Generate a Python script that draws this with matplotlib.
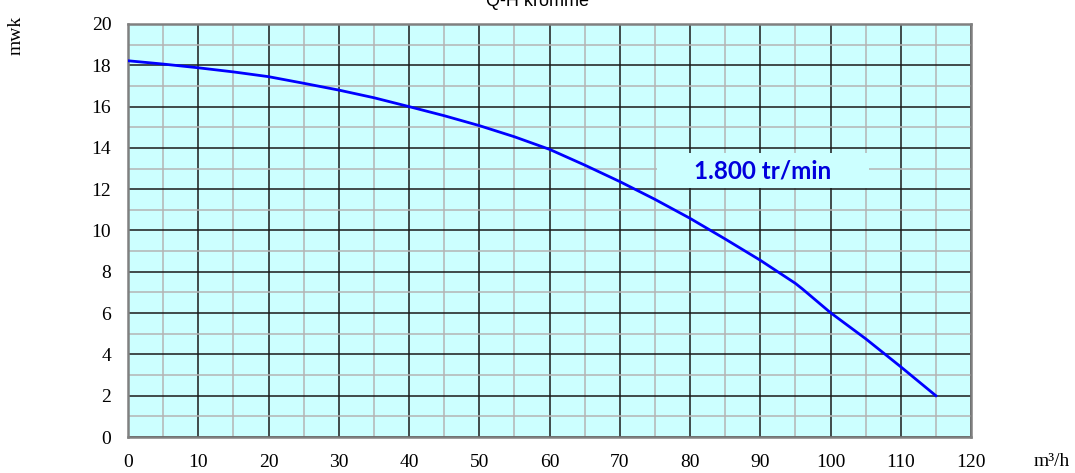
import matplotlib
matplotlib.use('Agg')
from matplotlib import pyplot as plt
from matplotlib.patches import Rectangle

# Q-H curve
flow = [0, 5, 10, 15, 20, 25, 30, 35, 40, 45, 50, 55, 60, 65, 70, 75, 80,
        85, 90, 95, 96, 100, 105, 110, 115]          # m3/h
head = [18.22, 18.06, 17.88, 17.68, 17.45, 17.13, 16.80, 16.43, 16.0, 15.56,
        15.08, 14.54, 13.93, 13.17, 12.37, 11.51, 10.59, 9.59, 8.56, 7.44,
        7.17, 6.02, 4.76, 3.40, 2.0]                  # mwk
xticks = list(range(0, 121, 10))
yticks = list(range(0, 21, 2))
label = '1.800 tr/min'

fig = plt.figure(figsize=(10.75, 4.73), dpi=100)
ax = fig.add_axes([128/1075, 36/473, 843/1075, 413/473])
ax.set_facecolor('#ccffff')
ax.set_xlim(0, 120)
ax.set_ylim(0, 20)

ax.set_xticks(xticks)
ax.set_yticks(yticks)
ax.set_xticks(range(5, 120, 10), minor=True)
ax.set_yticks(range(1, 20, 2), minor=True)
ax.grid(which='major', color='#1a1a1a', linewidth=1.1)
ax.grid(which='minor', color='#b4b4b4', linewidth=1.1)
ax.set_axisbelow(True)
ax.tick_params(which='both', length=0)
ax.tick_params(axis='x', pad=12)
ax.tick_params(axis='y', pad=12)
for t in ax.get_xticklabels() + ax.get_yticklabels():
    t.set_fontfamily('Liberation Serif')
    t.set_fontsize(14)
for s in ax.spines.values():
    s.set_color('#808080')
    s.set_linewidth(1.8)

ax.plot(flow, head, color='#0000ff', linewidth=2.0, zorder=3)

# label box covering the grid
ax.add_patch(Rectangle((75.3, 12.08), 30.2, 1.68, facecolor='#ccffff',
                       edgecolor='none', zorder=2.5))
ax.text(90.4, 12.9, label, color='#0000dd', fontsize=17.5, fontweight='bold',
        family='Lato', ha='center', va='center', zorder=4)

fig.text(537/1075, 1 - 6/473, 'Q-H kromme', family='Liberation Sans',
         fontsize=13, ha='center', va='baseline')
fig.text(16/1075, 1 - 35/473, 'mwk', family='Liberation Serif', fontsize=14,
         rotation=90, ha='center', va='center')
fig.text(1052/1075, 1 - 461/473, 'm³/h', family='Liberation Serif', fontsize=14,
         ha='center', va='center')

plt.savefig('out.png', dpi=100)
